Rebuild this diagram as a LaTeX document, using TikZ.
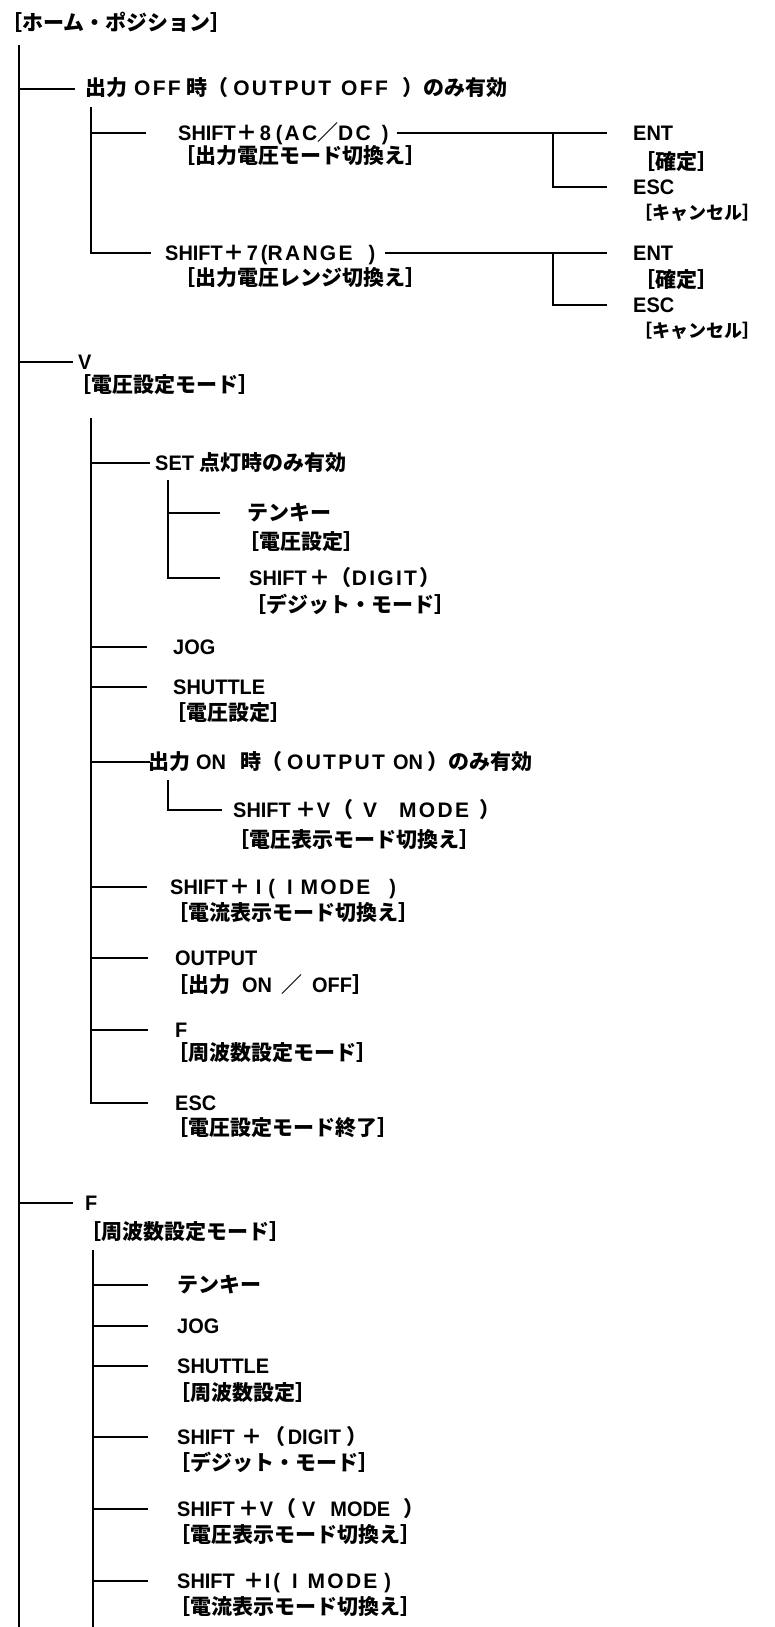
\documentclass[tikz,border=0pt]{standalone}
\usepackage{fontspec}
\setmainfont{Liberation Sans}[FakeStretch=0.95]
\newfontfamily\jpfont{Noto Sans CJK JP}
\newfontfamily\wide{Liberation Sans}[LetterSpace=11]
\usetikzlibrary{positioning,calc}
% switch to the Japanese font for CJK characters
\XeTeXinterchartokenstate=1
\newXeTeXintercharclass\jpclass
\newcount\jpc
\jpc="3000
\loop \XeTeXcharclass\jpc=\jpclass \advance\jpc by 1 \ifnum\jpc<"A000 \repeat
\jpc="FF00
\loop \XeTeXcharclass\jpc=\jpclass \advance\jpc by 1 \ifnum\jpc<"FFF0 \repeat
\XeTeXinterchartoks 0 \jpclass = {\begingroup\jpfont}
\XeTeXinterchartoks 4095 \jpclass = {\begingroup\jpfont}
\XeTeXinterchartoks \jpclass 0 = {\endgroup}
\XeTeXinterchartoks \jpclass 4095 = {\endgroup}

\begin{document}
\begin{tikzpicture}[
  x=1pt, y=-1pt,
  font=\fontsize{21}{24}\selectfont\bfseries,
  entry/.style={anchor=west, inner sep=0pt, text height=16pt, text depth=2pt},
  note/.style={entry},
  small/.style={font=\fontsize{18}{20}\selectfont\bfseries},
  link/.style={line width=2pt},
]
\useasboundingbox (0,0) rectangle (774,1627);
% home position and main trunk
\node[entry] (home) at (1,24) {［ホーム・ポジション］};
\coordinate (t1) at (19,45);
\coordinate (t1e) at (19,1627);
\draw[link] (t1) -- (t1e);
% output off branch
\node[entry] (off) at (85,89)
  {出力\hspace{7pt}{\wide OFF} 時（\hspace{5pt}{\wide OUTPUT}\hspace{10pt}{\wide OFF}\hspace{15pt}）のみ有効};
\draw[link] (t1 |- off.west) -- ([xshift=-10pt]off.west);
\coordinate (t2a) at (91,107);
\node[entry] (sh8) at (178,133)
  {SHIFT\hspace{1pt}＋\hspace{2pt}8\hspace{5pt}(\hspace{2pt}{\wide AC}／{\wide DC}\hspace{11pt})};
\node[note] (sh8d) at (174,157) {［出力電圧モード切換え］};
\node[entry] (sh7) at (165,253)
  {SHIFT\hspace{1pt}＋\hspace{2pt}7\hspace{3pt}({\wide RANGE}\hspace{16pt})};
\node[note] (sh7d) at (174,278) {［出力電圧レンジ切換え］};
\draw[link] (t2a |- sh8.west) -- ([xshift=-32pt]sh8.west);
\draw[link] (t2a) |- ([xshift=-14pt]sh7.west);
% confirm / cancel
\coordinate (j1) at (553,133);
\node[entry] (ent1) at (633,133) {ENT};
\node[note] (ent1d) at (634,162) {［確定］};
\node[entry] (esc1) at (633,187) {ESC};
\node[note, small] (esc1d) at (634,212) {［キャンセル］};
\draw[link] ([xshift=8pt]sh8.east) -- ([xshift=-26pt]ent1.west);
\draw[link] (j1) |- ([xshift=-26pt]esc1.west);
\coordinate (j2) at (553,253);
\node[entry] (ent2) at (633,253) {ENT};
\node[note] (ent2d) at (634,280) {［確定］};
\node[entry] (esc2) at (633,305) {ESC};
\node[note, small] (esc2d) at (634,330) {［キャンセル］};
\draw[link] ([xshift=10pt]sh7.east) -- ([xshift=-26pt]ent2.west);
\draw[link] (j2) |- ([xshift=-26pt]esc2.west);
% voltage setting mode
\node[entry] (v) at (78,362) {V};
\node[note] (vd) at (70,385) {［電圧設定モード］};
\draw[link] (t1 |- v.west) -- ([xshift=-5pt]v.west);
\coordinate (t2b) at (91,418);
\node[entry] (set) at (155,463) {SET 点灯時のみ有効};
\draw[link] (t2b |- set.west) -- ([xshift=-5pt]set.west);
\coordinate (t3a) at (168,480);
\node[entry] (tk1) at (247,513) {テンキー};
\node[note] (tk1d) at (238,542) {［電圧設定］};
\node[entry] (dg1) at (249,578)
  {SHIFT\hspace{3pt}＋（{\wide DIGIT}\hspace{2pt}）};
\node[note] (dg1d) at (245,605) {［デジット・モード］};
\draw[link] (t3a |- tk1.west) -- ([xshift=-27pt]tk1.west);
\draw[link] (t3a) |- ([xshift=-29pt]dg1.west);
\node[entry] (jog1) at (173,647) {JOG};
\draw[link] (t2b |- jog1.west) -- ([xshift=-26pt]jog1.west);
\node[entry] (sht1) at (173,687) {SHUTTLE};
\node[note] (sht1d) at (165,713) {［電圧設定］};
\draw[link] (t2b |- sht1.west) -- ([xshift=-26pt]sht1.west);
\node[entry] (on) at (148,762)
  {出力\hspace{6pt}ON\hspace{14pt}時（\hspace{5pt}{\wide OUTPUT}\hspace{8pt}ON\hspace{5pt}）のみ有効};
\draw[link] (t2b |- on.west) -- ([xshift=2pt]on.west);
\coordinate (t3b) at (168,780);
\node[entry] (sv1) at (233,810)
  {SHIFT\hspace{5pt}＋V\hspace{2pt}（\hspace{10pt}{\wide V}\hspace{22pt}{\wide MODE}\hspace{10pt}）};
\node[note] (sv1d) at (228,840) {［電圧表示モード切換え］};
\draw[link] (t3b) |- ([xshift=-11pt]sv1.west);
\node[entry] (si1) at (170,887)
  {SHIFT\hspace{2pt}＋\hspace{5pt}I\hspace{7pt}(\hspace{12pt}I\hspace{8pt}{\wide MODE}\hspace{19pt})};
\node[note] (si1d) at (167,913) {［電流表示モード切換え］};
\draw[link] (t2b |- si1.west) -- ([xshift=-23pt]si1.west);
\node[entry] (out) at (175,958) {OUTPUT};
\node[note] (outd) at (167,985) {［出力\hspace{12pt}ON\hspace{9pt}／\hspace{10pt}OFF］};
\draw[link] (t2b |- out.west) -- ([xshift=-27pt]out.west);
\node[entry] (f1) at (175,1030) {F};
\node[note] (f1d) at (167,1053) {［周波数設定モード］};
\draw[link] (t2b |- f1.west) -- ([xshift=-27pt]f1.west);
\node[entry] (esc3) at (175,1103) {ESC};
\node[note] (esc3d) at (167,1128) {［電圧設定モード終了］};
\draw[link] (t2b) |- ([xshift=-27pt]esc3.west);
% frequency setting mode
\node[entry] (f) at (85,1203) {F};
\node[note] (fd) at (80,1232) {［周波数設定モード］};
\draw[link] (t1 |- f.west) -- ([xshift=-12pt]f.west);
\coordinate (t2c) at (93,1250);
\coordinate (t2ce) at (93,1627);
\draw[link] (t2c) -- (t2ce);
\node[entry] (tk2) at (177,1285) {テンキー};
\node[entry] (jog2) at (177,1326) {JOG};
\node[entry] (sht2) at (177,1366) {SHUTTLE};
\node[note] (sht2d) at (169,1393) {［周波数設定］};
\node[entry] (dg2) at (177,1437)
  {SHIFT\hspace{7pt}＋\hspace{2pt}（\hspace{2pt}DIGIT\hspace{5pt}）};
\node[note] (dg2d) at (169,1463) {［デジット・モード］};
\node[entry] (sv2) at (177,1509)
  {SHIFT\hspace{4pt}＋V\hspace{2pt}（\hspace{6pt}V\hspace{15pt}MODE\hspace{13pt}）};
\node[note] (sv2d) at (169,1535) {［電圧表示モード切換え］};
\node[entry] (si2) at (177,1581)
  {SHIFT\hspace{9pt}＋I\hspace{3pt}(\hspace{12pt}I\hspace{10pt}{\wide MODE}\hspace{7pt})};
\node[note] (si2d) at (169,1607) {［電流表示モード切換え］};
\draw[link] (t2c |- tk2.west) -- ([xshift=-29pt]tk2.west);
\draw[link] (t2c |- jog2.west) -- ([xshift=-29pt]jog2.west);
\draw[link] (t2c |- sht2.west) -- ([xshift=-29pt]sht2.west);
\draw[link] (t2c |- dg2.west) -- ([xshift=-29pt]dg2.west);
\draw[link] (t2c |- sv2.west) -- ([xshift=-29pt]sv2.west);
\draw[link] (t2c |- si2.west) -- ([xshift=-29pt]si2.west);
\end{tikzpicture}
\end{document}
